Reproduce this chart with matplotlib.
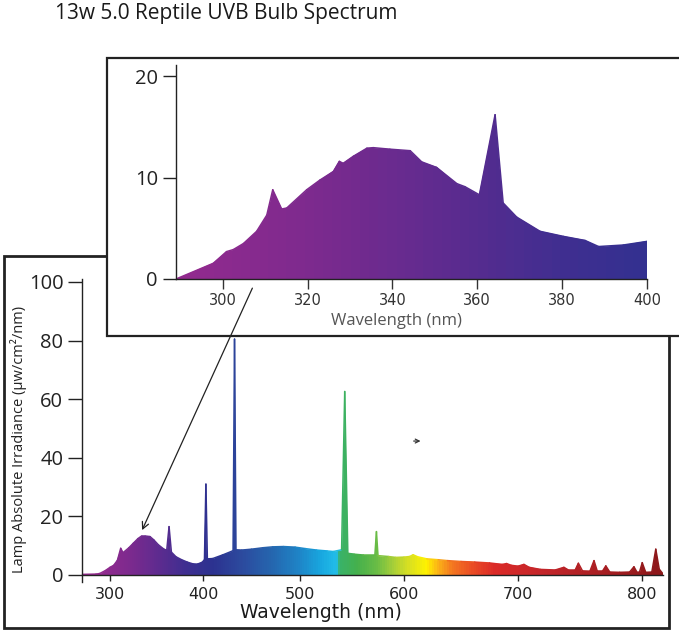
import numpy as np
import matplotlib
matplotlib.use("Agg")
import matplotlib.pyplot as plt
from matplotlib.colors import LinearSegmentedColormap, Normalize
from matplotlib.collections import LineCollection
from matplotlib.patches import Rectangle, ConnectionPatch

# full lamp spectrum (nm, uW/cm2/nm)
wavelength = [270, 285, 289, 295, 300, 304, 308, 311.5, 314, 320, 325, 330, 334, 338,
              343, 347, 352, 358, 361, 363.5, 366, 371, 377, 383, 389, 394, 399, 401.5,
              403, 404.5, 410, 420, 429, 431, 432.5, 434, 440, 450, 462, 472, 483, 495,
              505, 516, 526, 532, 540, 543, 546, 552, 561, 572, 573.5, 575, 585, 592,
              600, 605, 608, 612, 620, 630, 638, 650, 662, 675, 686, 690, 694, 700,
              704.8, 709, 718, 730, 737, 741, 746, 748.7, 752, 758, 761.3, 764, 768,
              770.8, 774, 782, 790, 793.5, 796, 798, 800.2, 803, 808, 811.2, 814, 817]
irradiance = [0.2, 0.3, 0.5, 1.5, 2.6, 3.3, 5.0, 9.1, 7.6, 9.2, 10.8, 12.4, 13.3, 13.3,
              13.1, 12.0, 10.3, 8.8, 8.4, 16.5, 7.8, 6.2, 5.2, 4.4, 3.8, 3.7, 4.3, 5.2,
              31.0, 5.5, 5.6, 6.8, 8.0, 8.3, 80.5, 8.6, 8.5, 8.8, 9.3, 9.6, 9.7, 9.5,
              9.0, 8.5, 8.2, 8.0, 8.6, 62.6, 7.4, 7.1, 6.8, 6.8, 14.8, 6.6, 6.3, 6.0,
              6.1, 6.3, 6.9, 6.2, 5.5, 5.2, 4.9, 4.6, 4.4, 4.1, 3.6, 3.9, 3.3, 3.0,
              3.6, 2.6, 1.9, 1.7, 2.6, 1.6, 1.6, 4.0, 1.4, 1.3, 4.9, 1.2, 1.2,
              3.1, 1.0, 0.9, 1.0, 2.8, 0.9, 1.0, 4.2, 0.9, 1.0, 8.8, 2.0, 0.4]

# UV close-up shown in the inset
uv_wavelength = [289, 297.8, 300.9, 302.5, 304.9, 308.0, 310.4, 311.8, 313.9, 315.1,
                 319.8, 322.9, 326.1, 327.5, 328.4, 330.8, 334.0, 335.5, 339.4, 344.2,
                 346.9, 350.4, 355.2, 357.1, 360.5, 364.2, 366.1, 369.3, 374.8, 380.3,
                 385.4, 388.6, 394.4, 399.9, 400]
uv_irradiance = [0, 1.55, 2.7, 2.9, 3.5, 4.7, 6.3, 8.8, 6.9, 7.0,
                 8.8, 9.75, 10.6, 11.6, 11.4, 12.1, 12.9, 12.95, 12.8, 12.65,
                 11.55, 11.0, 9.4, 9.1, 8.3, 16.2, 7.5, 6.1, 4.7, 4.2,
                 3.8, 3.2, 3.35, 3.7, 0]

title = "13w 5.0 Reptile UVB Bulb Spectrum"
main_xticks = [300, 400, 500, 600, 700, 800]
main_yticks = [0, 20, 40, 60, 80, 100]
inset_xticks = [300, 320, 340, 360, 380, 400]
inset_yticks = [0, 10, 20]

# the wavelength axis of the big chart is not evenly spaced in the source,
# so it goes through these knots (nm -> pixel column)
axis_knots_nm = [200, 300, 400, 500, 600, 700, 800, 900]
axis_knots_px = [17, 110, 203, 300, 404, 518, 642, 765]

# rough colour of the fill at each wavelength
spectrum_nm = [270, 290, 320, 350, 380, 410, 440, 470, 500, 520, 535, 538, 555,
               575, 590, 605, 620, 630, 642, 660, 680, 720, 770, 820]
spectrum_colors = ['#962a8d', '#922a8e', '#7d2a8e', '#5f2b8f', '#3f2e90', '#2c3290',
                   '#2c4a9e', '#2565ae', '#1e86c8', '#18a7df', '#22bde9', '#38b26a',
                   '#45b04c', '#6cbd45', '#a8cf38', '#d9e021', '#fff200', '#fbb416',
                   '#f47920', '#ea4d25', '#db2a27', '#c4252a', '#a81e22', '#8a1719']

W, H = 679, 632
plt.rcParams['font.family'] = ['Open Sans', 'DejaVu Sans']

lo, hi = spectrum_nm[0], spectrum_nm[-1]
norm = Normalize(lo, hi)
cmap = LinearSegmentedColormap.from_list(
    'spectrum', [((n - lo) / (hi - lo), c) for n, c in zip(spectrum_nm, spectrum_colors)])


def fwd(x):
    return np.interp(x, axis_knots_nm, axis_knots_px)


def inv(p):
    return np.interp(p, axis_knots_px, axis_knots_nm)


def gradient_fill(ax, x, y, x0, x1, ytop):
    """Fill under the curve, coloured by wavelength, with a matching outline."""
    poly = ax.fill_between(x, y, 0, facecolor='none', edgecolor='none')
    xs = np.arange(x0, x1 + 0.25, 0.25)
    mid = 0.5 * (xs[:-1] + xs[1:])
    mesh = ax.pcolormesh(xs, [0, ytop], mid[None, :], cmap=cmap, norm=norm, shading='flat')
    mesh.set_clip_path(poly.get_paths()[0], ax.transData)
    pts = np.column_stack([x, y])
    segs = np.stack([pts[:-1], pts[1:]], axis=1)
    edge = LineCollection(segs, cmap=cmap, norm=norm, linewidths=1.1, capstyle='round')
    edge.set_array(0.5 * (np.asarray(x[:-1]) + np.asarray(x[1:])))
    ax.add_collection(edge)


fig = plt.figure(figsize=(W / 100, H / 100), dpi=100)
fig.patch.set_facecolor('white')

# ---- main chart ----
x_lo, x_hi = 270, 817
left_px, right_px = fwd(x_lo), fwd(x_hi)
bot_px, top_px = 582.3, 279.0
ax = fig.add_axes([left_px / W, 1 - bot_px / H, (right_px - left_px) / W, (bot_px - top_px) / H],
                  zorder=0)
ax.set_xscale('function', functions=(fwd, inv))
gradient_fill(ax, wavelength, irradiance, x_lo, x_hi, 101)
ax.set_xlim(x_lo, x_hi)
ax.set_ylim(-2.5, 101)
ax.patch.set_visible(False)
for s in ['top', 'right']:
    ax.spines[s].set_visible(False)
ax.spines['bottom'].set_position(('data', 0))
for s in ['left', 'bottom']:
    ax.spines[s].set_linewidth(1.0)
    ax.spines[s].set_color('#222222')
    ax.spines[s].set_zorder(3)
ax.set_xticks(main_xticks)
ax.set_xticks([], minor=True)
ax.set_yticks(main_yticks)
ax.tick_params(axis='y', length=10, width=1, pad=3.5, labelsize=14.5, colors='#222222')
ax.tick_params(axis='x', length=4.5, width=1, pad=4, labelsize=11.5, colors='#222222')
for lbl in ax.get_xticklabels():
    lbl.set_fontfamily('DejaVu Sans')
ax.set_xlabel('Wavelength (nm)', fontsize=13.5, family='DejaVu Sans', color='#1a1a1a')
ax.xaxis.set_label_coords((321 - left_px) / (right_px - left_px), (bot_px - 603) / (bot_px - top_px))
ax.set_ylabel('Lamp Absolute Irradiance (\u00b5w/cm\u00b2/nm)', fontsize=10.5, color='#222222')
ax.yaxis.set_label_coords((27 - left_px) / (right_px - left_px), (bot_px - 439) / (bot_px - top_px))

# stray little arrow in the source
ax.annotate('', xy=(614.5, 45.7), xytext=(608.5, 45.7),
            arrowprops=dict(arrowstyle='->', lw=0.9, color='#333333', mutation_scale=7,
                            shrinkA=0, shrinkB=0))

# frames
fig.add_artist(Rectangle((4 / W, 1 - 628 / H), 665 / W, 372 / H, transform=fig.transFigure,
                         fill=False, lw=2, ec='#222222', zorder=0.5))
fig.add_artist(Rectangle((107 / W, 1 - 336 / H), 640 / W, 278 / H, transform=fig.transFigure,
                         fc='white', ec='#222222', lw=1.6, zorder=1))

# ---- inset (UV close-up) ----
ax_in = fig.add_axes([176 / W, 1 - 279 / H, 471 / W, 214 / H], zorder=2)
gradient_fill(ax_in, uv_wavelength, uv_irradiance, 289, 400, 21.1)
ax_in.set_xlim(289, 400)
ax_in.set_ylim(0, 21.1)
ax_in.patch.set_visible(False)
for s in ['top', 'right']:
    ax_in.spines[s].set_visible(False)
for s in ['left', 'bottom']:
    ax_in.spines[s].set_linewidth(1.0)
    ax_in.spines[s].set_color('#222222')
    ax_in.spines[s].set_zorder(3)
ax_in.set_xticks(inset_xticks)
ax_in.set_yticks(inset_yticks)
ax_in.tick_params(axis='y', length=9.5, width=1, pad=3.5, labelsize=14.5, colors='#222222')
ax_in.tick_params(axis='x', length=7, width=1, pad=3, labelsize=10.5, colors='#333333')
for lbl in ax_in.get_xticklabels():
    lbl.set_fontfamily('DejaVu Sans')
ax_in.set_xlabel('Wavelength (nm)', fontsize=12, color='#555555')
ax_in.xaxis.set_label_coords((396 - 176) / 471, (279 - 313) / 214)

# arrow from the inset down to the UV hump
con = ConnectionPatch(xyA=(307, -0.9), coordsA=ax_in.transData,
                      xyB=(334.5, 15.3), coordsB=ax.transData,
                      arrowstyle='->', lw=0.9, color='#222222', mutation_scale=12, zorder=3)
fig.add_artist(con)

fig.text(55 / W, 1 - 19 / H, title, fontsize=15, va='baseline', color='#1a1a1a')

fig.savefig('out.png', dpi=100)
